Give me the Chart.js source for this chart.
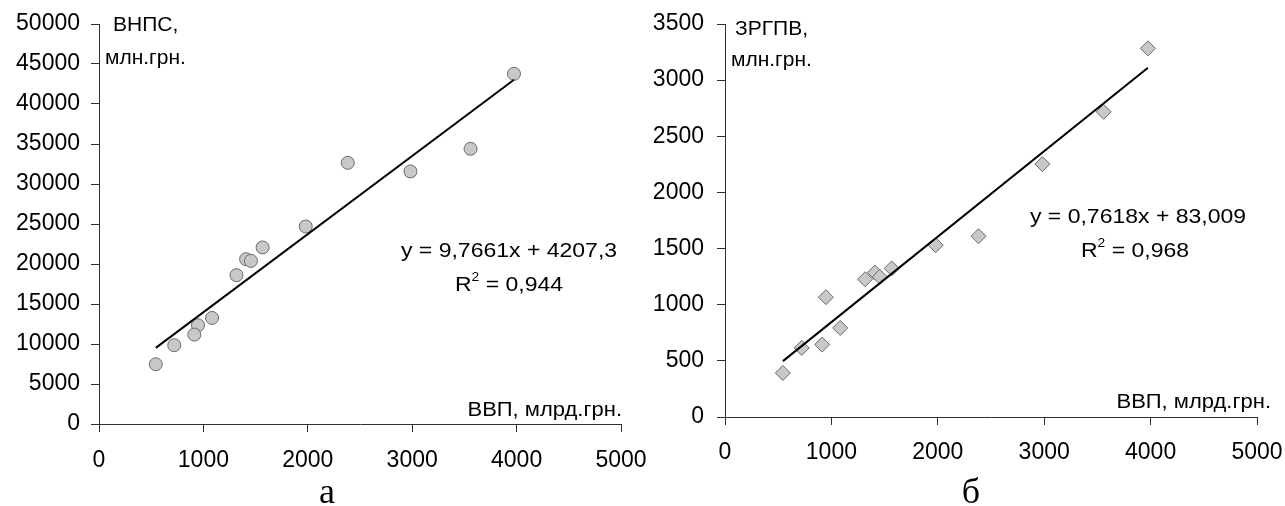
<!DOCTYPE html>
<html><head><meta charset="utf-8">
<script src="https://cdn.jsdelivr.net/npm/chart.js@4"></script>
<style>
html,body{margin:0;padding:0;background:#fff;width:1285px;height:506px;overflow:hidden;}
.box{position:absolute;top:0;height:506px;}
#b1{left:0;width:650px;}
#b2{left:640px;width:645px;}
canvas{display:block;}
</style></head><body>
<div class="box" id="b1"><canvas id="c1" width="650" height="506"></canvas></div>
<div class="box" id="b2"><canvas id="c2" width="645" height="506"></canvas></div>
<script>
// ---- data ----
const gdp   = [544, 721, 948, 913, 1083, 1317, 1409, 1455, 1567, 1980, 2383, 2983, 3559, 3975]; // ВВП, млрд.грн.
const vnps  = [7470, 9850, 12350, 11180, 13260, 18600, 20600, 20390, 22070, 24690, 32650, 31570, 34400, 43780]; // ВНПС, млн.грн.
const zrgpv = [392, 615, 1067, 645, 793, 1227, 1287, 1248, 1323, 1530, 1610, 2252, 2718, 3283]; // ЗРГПВ, млн.грн.
const trendA = [9.7661, 4207.3];   // y = 9,7661x + 4207,3
const trendB = [0.7618, 83.009];   // y = 0,7618x + 83,009
const trendRange = [544, 3975];
const xTickLabels = ['0','1000','2000','3000','4000','5000'];

const SANS = '"Liberation Sans", Arial, sans-serif';
const SERIF = '"Liberation Serif", "Times New Roman", serif';

const textPlugin = {
  id: 'texts',
  afterDraw(chart, args, opts) {
    const ctx = chart.ctx;
    (opts.items || []).forEach(it => {
      ctx.save();
      ctx.fillStyle = '#000';
      ctx.textBaseline = it.baseline || 'middle';
      ctx.translate(it.x, it.y);
      ctx.scale(it.sx || 1, 1);
      const fam = it.family || SANS;
      const parts = it.parts || [{t: it.text}];
      let total = 0;
      parts.forEach(p => {
        ctx.font = (p.sup ? Math.round(it.size * 0.6) : it.size) + 'px ' + fam;
        p.w = ctx.measureText(p.t).width;
        total += p.w;
      });
      let x = it.align === 'center' ? -total / 2 : (it.align === 'right' ? -total : 0);
      ctx.textAlign = 'left';
      parts.forEach(p => {
        ctx.font = (p.sup ? Math.round(it.size * 0.6) : it.size) + 'px ' + fam;
        ctx.fillText(p.t, x, p.sup ? -it.size * 0.38 : 0);
        x += p.w;
      });
      ctx.restore();
    });
  }
};

function axisCommon(extra) {
  return Object.assign({
    type: 'linear',
    grid: { display: true, drawOnChartArea: false, drawTicks: true, tickLength: 8, color: '#303030', lineWidth: 1 },
    border: { display: true, color: '#303030', width: 1 }
  }, extra);
}

function makeChart(id, yVals, trend, marker, yMax, yStep, yWidth, xHeight, padRight, yPad, xPad, texts) {
  const pts = gdp.map((g, i) => ({ x: g, y: yVals[i] }));
  const line = trendRange.map(x => ({ x: x, y: trend[0] * x + trend[1] }));
  return new Chart(document.getElementById(id), {
    type: 'scatter',
    data: {
      datasets: [
        { type: 'line', data: line, borderColor: '#000', borderWidth: 2, pointRadius: 0, fill: false, order: 0 },
        { data: pts, pointStyle: marker.style, pointRadius: marker.r, pointHoverRadius: marker.r,
          backgroundColor: '#c8c8c8', borderColor: '#6a6a6a', borderWidth: 1, order: 1 }
      ]
    },
    options: {
      responsive: false, animation: false, devicePixelRatio: 1,
      layout: { padding: { top: 24, right: padRight, bottom: 0, left: 0 } },
      plugins: { legend: { display: false }, tooltip: { enabled: false }, texts: { items: texts } },
      scales: {
        x: axisCommon({ min: 0, max: 5000,
          ticks: { stepSize: 1000, color: '#000', font: { family: SANS, size: 23 }, padding: xPad,
                   callback: (v) => xTickLabels[Math.round(v / 1000)] },
          afterFit(s) { s.height = xHeight; s.paddingLeft = 0; s.paddingRight = 0; } }),
        y: axisCommon({ min: 0, max: yMax,
          ticks: { stepSize: yStep, color: '#000', font: { family: SANS, size: 23 }, padding: yPad,
                   callback: (v) => String(v) },
          afterFit(s) { s.width = yWidth; s.paddingTop = 0; s.paddingBottom = 0; } })
      }
    },
    plugins: [textPlugin]
  });
}

makeChart('c1', vnps, trendA, { style: 'circle', r: 6.5 }, 50000, 5000, 99, 82, 29, 11, 15, [
  { text: 'ВНПС,', x: 113, y: 25, size: 21 },
  { text: 'млн.грн.', x: 105, y: 58, size: 21 },
  { text: 'y = 9,7661x + 4207,3', x: 509, y: 251, size: 20, sx: 1.15, align: 'center' },
  { parts: [{t:'R'},{t:'2',sup:true},{t:' = 0,944'}], x: 509, y: 285, size: 20, sx: 1.15, align: 'center' },
  { text: 'ВВП, млрд.грн.', x: 622, y: 410, size: 20, sx: 1.1, align: 'right' },
  { text: 'а', x: 327, y: 503, size: 36, family: SERIF, baseline: 'alphabetic', align: 'center' }
]);

makeChart('c2', zrgpv, trendB, { style: 'rectRot', r: 7.5 }, 3500, 500, 85, 89, 28, 13, 14, [
  { text: 'ЗРГПВ,', x: 95, y: 29, size: 21 },
  { text: 'млн.грн.', x: 91, y: 60, size: 21 },
  { text: 'y = 0,7618x + 83,009', x: 498, y: 217, size: 20, sx: 1.15, align: 'center' },
  { parts: [{t:'R'},{t:'2',sup:true},{t:' = 0,968'}], x: 495, y: 251, size: 20, sx: 1.15, align: 'center' },
  { text: 'ВВП, млрд.грн.', x: 631, y: 402, size: 20, sx: 1.1, align: 'right' },
  { text: 'б', x: 331, y: 503, size: 36, family: SERIF, baseline: 'alphabetic', align: 'center' }
]);
</script>
</body></html>
